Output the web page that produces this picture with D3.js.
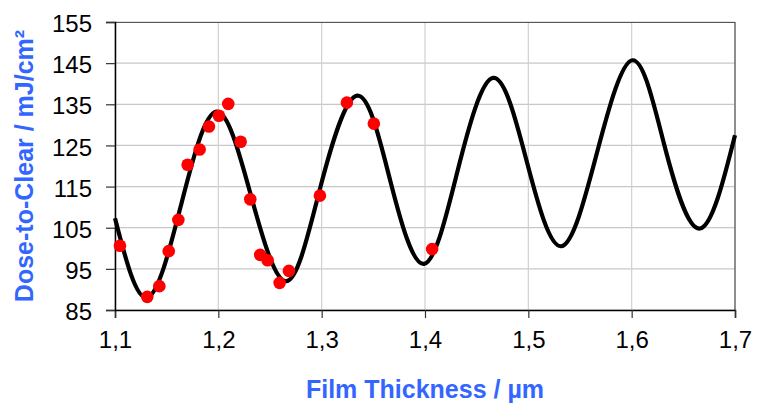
<!DOCTYPE html>
<html>
<head>
<meta charset="utf-8">
<script src="https://cdn.jsdelivr.net/npm/d3@7"></script>
<style>
    body { margin: 0; background: #fff; }
    svg { display: block; font-family: "Liberation Sans", Arial, sans-serif; }
</style>
</head>
<body>
<svg width="766" height="403"></svg>
<script>
// swing curve: extremes and mid-slope points
// (thickness in µm, dose in mJ/cm²)
const curveThickness = [1.100, 1.131, 1.164, 1.198, 1.2318, 1.266, 1.2985, 1.3344,
    1.3662, 1.399, 1.4315, 1.466, 1.4987, 1.532, 1.5663, 1.6007, 1.6315, 1.666, 1.700];
const curveDose = [107.3, 88.0, 110.6, 133.2, 112.6, 92.0, 114.6, 137.1,
    116.6, 96.2, 118.8, 141.4, 120.9, 100.5, 123.1, 145.7, 125.2, 104.8, 127.5];

// measured points
const measuredThickness = [1.1048, 1.1312, 1.1429, 1.152, 1.1613, 1.1703, 1.1819, 1.1909,
    1.2006, 1.2096, 1.2216, 1.2309, 1.2405, 1.2477, 1.2593, 1.2683, 1.2983, 1.3244,
    1.3505, 1.4069];
const measuredDose = [100.6, 88.2, 90.8, 99.3, 106.9, 120.3, 124.0, 129.6,
    132.2, 135.1, 125.9, 111.9, 98.4, 97.1, 91.6, 94.5, 112.8, 135.4,
    130.3, 99.8];

const thicknessTicks = [1.1, 1.2, 1.3, 1.4, 1.5, 1.6, 1.7];
const doseTicks = [85, 95, 105, 115, 125, 135, 145, 155];

const svg = d3.select("svg");
const margin = {left: 115, right: 31, top: 22, bottom: 93};
const width = 766 - margin.left - margin.right;
const height = 403 - margin.top - margin.bottom;
const blue = "#3366ff";
const fmt = d => d3.format(".1f")(d).replace(".", ",");

const x = d3.scaleLinear().domain([1.1, 1.7]).range([0, width]);
const y = d3.scaleLinear().domain([85, 155]).range([height, 0]);

const g = svg.append("g").attr("transform", `translate(${margin.left},${margin.top})`);

// grid
g.append("g").selectAll("line").data(doseTicks).join("line")
    .attr("x1", 0).attr("x2", width)
    .attr("y1", d => y(d)).attr("y2", d => y(d))
    .attr("stroke", "#c8c8c8").attr("stroke-width", 1.2);
g.append("g").selectAll("line").data(thicknessTicks).join("line")
    .attr("x1", d => x(d)).attr("x2", d => x(d))
    .attr("y1", 0).attr("y2", height)
    .attr("stroke", "#d0d0d0").attr("stroke-width", 1.2);

// top / right frame
g.append("path")
    .attr("d", `M0,0.5H${width}V${height}`)
    .attr("fill", "none").attr("stroke", "#555").attr("stroke-width", 1.2);

// axes
const xAxis = g.append("g").attr("transform", `translate(0,${height})`)
    .call(d3.axisBottom(x).tickValues(thicknessTicks).tickFormat(fmt).tickSize(8).tickPadding(13));
const yAxis = g.append("g")
    .call(d3.axisLeft(y).tickValues(doseTicks).tickSize(9).tickPadding(14));

[xAxis, yAxis].forEach(a => {
    a.select(".domain").attr("stroke", "#000").attr("stroke-width", 1.5);
    a.selectAll(".tick line").attr("stroke", "#333").attr("stroke-width", 1.2);
    a.selectAll("text").attr("font-size", 24).attr("fill", "#000")
        .attr("font-family", "'Liberation Sans', Arial, sans-serif");
});
yAxis.selectAll("text").attr("dy", "0.4em");

// curve
const line = d3.line()
    .x(d => x(d[0])).y(d => y(d[1]))
    .curve(d3.curveNatural);
g.append("path")
    .datum(d3.zip(curveThickness, curveDose))
    .attr("d", line)
    .attr("fill", "none").attr("stroke", "#000").attr("stroke-width", 4.2)
    .attr("stroke-linejoin", "round");

// measured markers
g.append("g").selectAll("circle").data(d3.zip(measuredThickness, measuredDose)).join("circle")
    .attr("cx", d => x(d[0])).attr("cy", d => y(d[1])).attr("r", 6.3)
    .attr("fill", "#ff0000");

// titles
svg.append("text")
    .attr("x", 425).attr("y", 398)
    .attr("text-anchor", "middle")
    .attr("font-size", 25).attr("font-weight", "bold").attr("fill", blue)
    .text("Film Thickness / µm");
svg.append("text")
    .attr("transform", "translate(33,166) rotate(-90)")
    .attr("text-anchor", "middle")
    .attr("font-size", 25).attr("font-weight", "bold").attr("fill", blue)
    .text("Dose-to-Clear / mJ/cm²");
</script>
</body>
</html>
